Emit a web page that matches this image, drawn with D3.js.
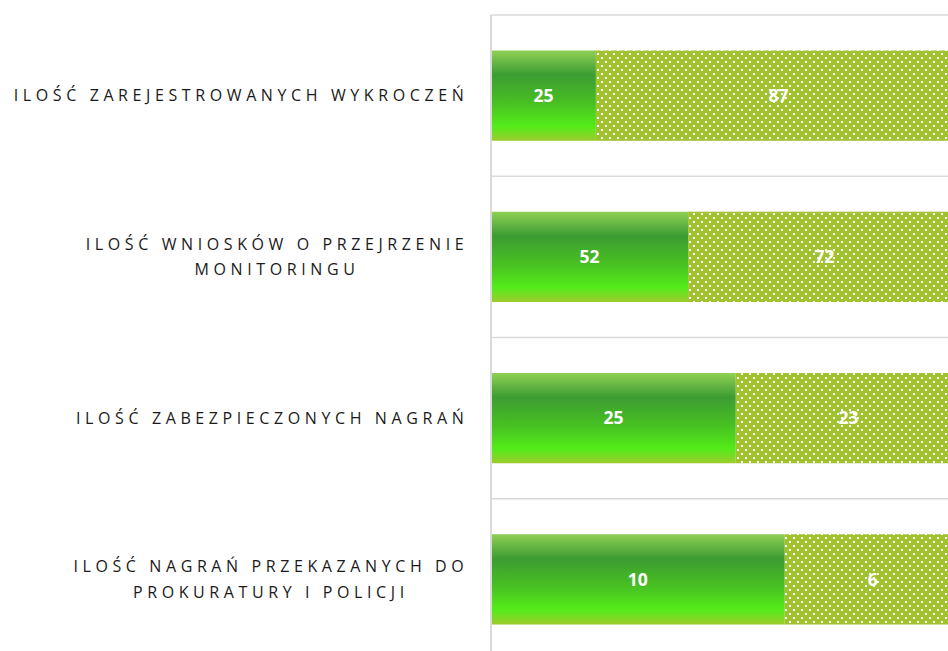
<!DOCTYPE html>
<html>
<head>
<meta charset="utf-8">
<script src="https://cdn.jsdelivr.net/npm/d3@7"></script>
<style>
html,body{margin:0;padding:0;background:#fff;overflow:hidden;}
svg{display:block;}
</style>
</head>
<body>
<svg id="chart" width="948" height="651"></svg>
<script>
const categories = [
  "ILOŚĆ ZAREJESTROWANYCH WYKROCZEŃ",
  "ILOŚĆ WNIOSKÓW O PRZEJRZENIE MONITORINGU",
  "ILOŚĆ ZABEZPIECZONYCH NAGRAŃ",
  "ILOŚĆ NAGRAŃ PRZEKAZANYCH DO PROKURATURY I POLICJI"
];
const categoryLines = [
  ["ILOŚĆ ZAREJESTROWANYCH WYKROCZEŃ"],
  ["ILOŚĆ WNIOSKÓW O PRZEJRZENIE", "MONITORINGU"],
  ["ILOŚĆ ZABEZPIECZONYCH NAGRAŃ"],
  ["ILOŚĆ NAGRAŃ PRZEKAZANYCH DO", "PROKURATURY I POLICJI"]
];
const seriesA = [25, 52, 25, 10];
const seriesB = [87, 72, 23, 6];
const seriesKeys = ["a", "b"];

const svg = d3.select("#chart");
const mLeft = 491, mRight = 961, mTop = 15, mBottom = 660;

const rows = categories.map((c, i) => ({cat: c, a: seriesA[i], b: seriesB[i]}));
const stacked = d3.stack().keys(seriesKeys).offset(d3.stackOffsetExpand)(rows);

const x = d3.scaleLinear().domain([0, 1]).range([mLeft, mRight]);
const y = d3.scaleBand().domain(categories).range([mTop, mBottom]).paddingInner(0.44).paddingOuter(0.22);
const band = d3.scaleBand().domain(categories).range([mTop, mBottom]);

const defs = svg.append("defs");
const grad = defs.append("linearGradient").attr("id", "gA")
  .attr("x1", 0).attr("y1", 0).attr("x2", 0).attr("y2", 1);
[[0, "#90d055"], [0.27, "#3c9c32"], [0.58, "#48c022"], [0.84, "#54ec19"], [1, "#9ecb2e"]]
  .forEach(([o, c]) => grad.append("stop").attr("offset", o).attr("stop-color", c));

const pat = defs.append("pattern").attr("id", "pB").attr("patternUnits", "userSpaceOnUse")
  .attr("width", 8).attr("height", 8).attr("x", 0).attr("y", 0);
pat.append("rect").attr("width", 8).attr("height", 8).attr("fill", "#a0c22f");
pat.append("rect").attr("x", 1).attr("y", 1).attr("width", 2).attr("height", 2).attr("fill", "#ffffff");
pat.append("rect").attr("x", 5).attr("y", 5).attr("width", 2).attr("height", 2).attr("fill", "#ffffff");

// gridlines at category boundaries
const bounds = categories.map(c => band(c)).concat([mBottom]);
svg.append("g").selectAll("line").data(bounds).join("line")
  .attr("x1", mLeft).attr("x2", 948).attr("y1", d => d).attr("y2", d => d)
  .attr("stroke", "#d9d9d9").attr("stroke-width", 1.5);
svg.append("line").attr("x1", mLeft).attr("x2", mLeft).attr("y1", mTop).attr("y2", mBottom)
  .attr("stroke", "#d9d9d9").attr("stroke-width", 2);

const fills = {a: "url(#gA)", b: "url(#pB)"};
const g = svg.append("g");
stacked.forEach(s => {
  g.selectAll(null).data(s).join("rect")
    .attr("x", d => x(d[0]) + (s.key === "a" ? 1 : 0))
    .attr("y", d => y(d.data.cat))
    .attr("width", d => x(d[1]) - x(d[0]) - (s.key === "a" ? 1 : 0))
    .attr("height", y.bandwidth())
    .attr("fill", fills[s.key]);
  g.selectAll(null).data(s).join("text")
    .attr("x", d => (x(d[0]) + x(d[1])) / 2)
    .attr("y", d => y(d.data.cat) + y.bandwidth() / 2)
    .attr("dy", "0.35em")
    .attr("text-anchor", "middle")
    .attr("fill", "#ffffff")
    .attr("font-family", "'Open Sans', Lato, sans-serif")
    .attr("font-weight", "bold")
    .attr("font-size", 17.5)
    .text(d => d.data[s.key]);
});

// category labels
const labelRight = 466;
const lineH = 25.5;
categoryLines.forEach((lines, i) => {
  const cy = band(categories[i]) + band.bandwidth() / 2;
  const t = svg.append("text")
    .attr("font-family", "'Open Sans', Lato, sans-serif")
    .attr("font-size", 16)
    .attr("letter-spacing", "4.6px")
    .attr("fill", "#1a1a1a")
    .attr("text-anchor", "middle");
  const spans = lines.map((ln, j) => t.append("tspan")
    .attr("y", cy + (j - (lines.length - 1) / 2) * lineH)
    .attr("dy", "0.35em").text(ln));
  const maxW = d3.max(spans, s => s.node().getComputedTextLength());
  spans.forEach(s => s.attr("x", labelRight - maxW / 2 + 2.3));
});
</script>
</body>
</html>
